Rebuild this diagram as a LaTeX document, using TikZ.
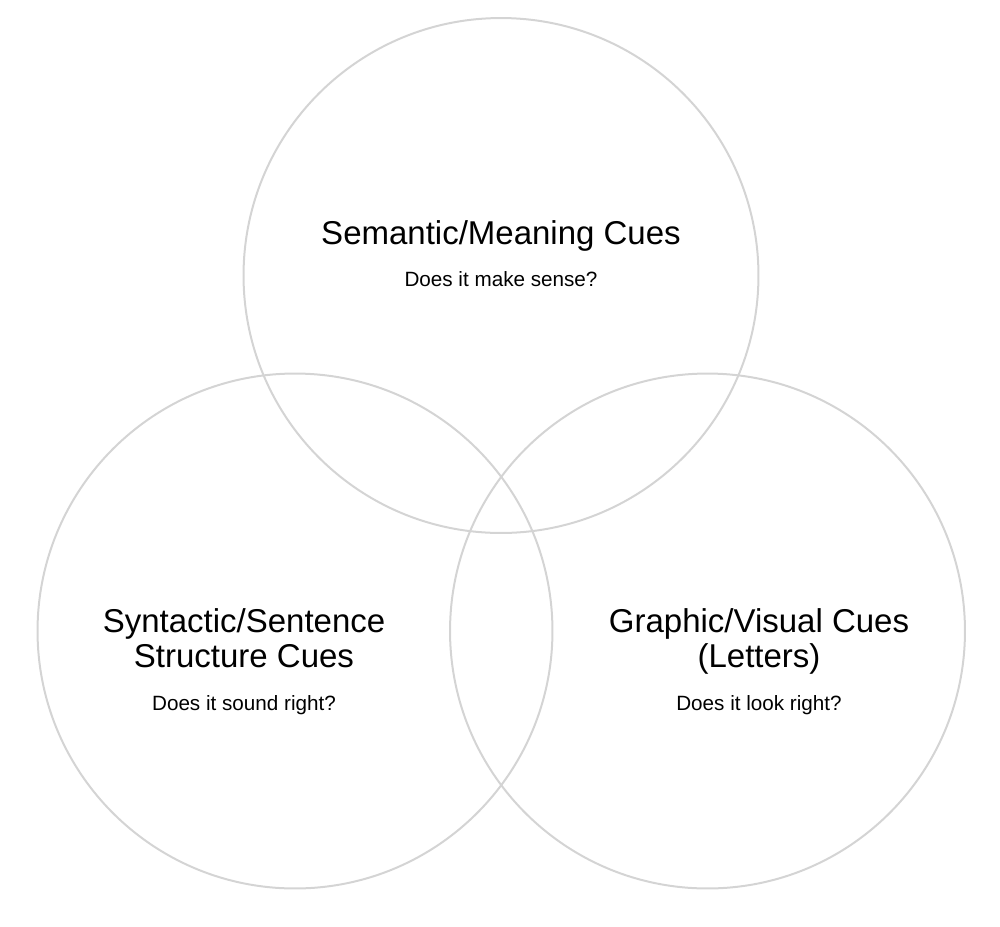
\documentclass[tikz,border=0pt]{standalone}
\usepackage{fontspec}
\setmainfont{Liberation Sans}
\definecolor{ringgray}{HTML}{D4D4D4}
\begin{document}
\begin{tikzpicture}[x=0.75pt,y=-0.75pt,
  ring/.style={draw=ringgray,line width=1.5pt},
  title/.style={anchor=base,inner sep=0pt,font=\fontsize{24.75}{28}\selectfont},
  sub/.style={anchor=base,inner sep=0pt,font=\fontsize{15.5}{18}\selectfont}]
\useasboundingbox (0,0) rectangle (1000,926);
\draw[ring] (501,275.5) circle[radius=193.1pt];
\draw[ring] (295,631) circle[radius=193.1pt];
\draw[ring] (707.5,631) circle[radius=193.1pt];
\node[title] (t1) at (501,244) {Semantic/Meaning Cues};
\node[sub] (s1) at (501,286.5) {Does it make sense?};
\node[title] (t2a) at (244,632) {Syntactic/Sentence};
\node[title] (t2b) at (244,667.2) {Structure Cues};
\node[sub] (s2) at (244,710) {Does it sound right?};
\node[title] (t3a) at (759,632) {Graphic/Visual Cues};
\node[title] (t3b) at (759,667.2) {(Letters)};
\node[sub] (s3) at (759,710) {Does it look right?};
\end{tikzpicture}
\end{document}
